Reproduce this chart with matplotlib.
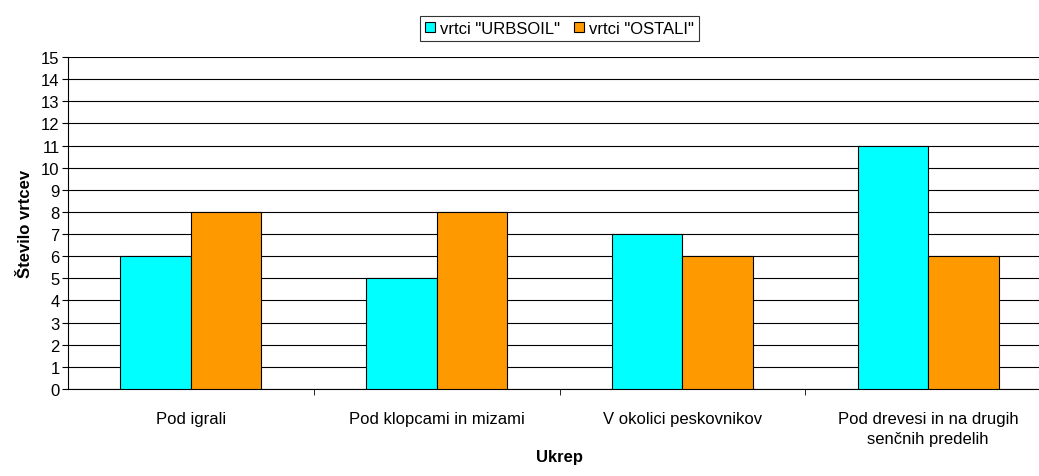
import numpy as np
import matplotlib.pyplot as plt

plt.rcParams['font.family'] = ['Liberation Sans', 'DejaVu Sans']

# podatki
kategorije = ['Pod igrali', 'Pod klopcami in mizami', 'V okolici peskovnikov',
              'Pod drevesi in na drugih\nsenčnih predelih']
urbsoil = [6, 5, 7, 11]
ostali = [8, 8, 6, 6]

fig = plt.figure(figsize=(10.39, 4.77), dpi=100)
ax = fig.add_axes([0.0655, 0.1824, 0.946, 0.696])

x = np.arange(len(kategorije))
w = 0.287
ax.bar(x - w / 2, urbsoil, w, color='#00ffff', edgecolor='black', lw=0.8,
       label='vrtci "URBSOIL"', zorder=3)
ax.bar(x + w / 2, ostali, w, color='#ff9900', edgecolor='black', lw=0.8,
       label='vrtci "OSTALI"', zorder=3)

ax.set_xlim(-0.5, 3.5)
ax.set_ylim(0, 15)
ax.set_yticks(range(0, 16))
ax.yaxis.grid(True, color='black', lw=0.8, zorder=0)
ax.set_axisbelow(True)

ax.set_xticks(x)
ax.set_xticklabels(kategorije, fontsize=12, linespacing=1.4)
ax.tick_params(axis='x', length=0, pad=16)
ax.set_xticks(np.arange(0.5, 3.5, 1), minor=True)
ax.tick_params(axis='x', which='minor', length=4, direction='out')
ax.tick_params(axis='y', labelsize=12, length=4, direction='out', pad=2)

for s in ['top', 'right']:
    ax.spines[s].set_visible(False)

ax.set_ylabel('Število vrtcev', fontsize=12, fontweight='bold', labelpad=6)
ax.set_xlabel('Ukrep', fontsize=12, fontweight='bold', labelpad=2)

leg = ax.legend(loc='lower center', bbox_to_anchor=(0.5, 1.023), ncol=2,
                frameon=True, fancybox=False, edgecolor='black', fontsize=12,
                handlelength=0.6, handleheight=0.6, handletextpad=0.3,
                columnspacing=0.8, borderpad=0.3)
leg.get_frame().set_linewidth(0.8)

fig.savefig('out.png', dpi=100)
